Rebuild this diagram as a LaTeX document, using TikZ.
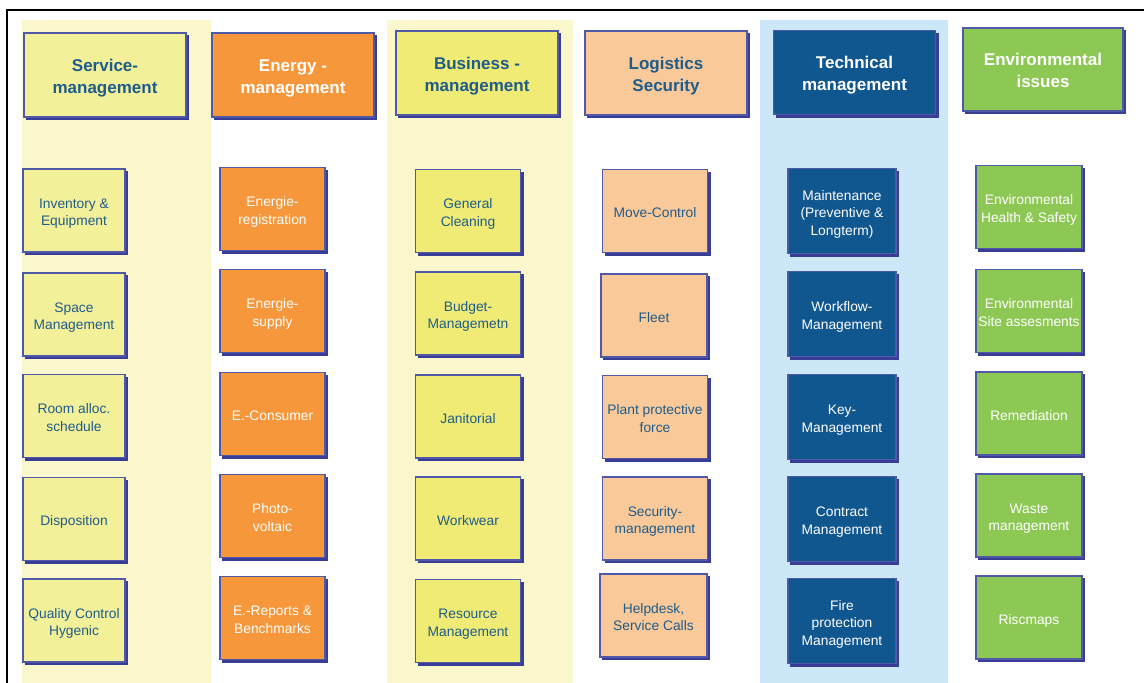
\documentclass[tikz,border=0pt]{standalone}
\usepackage{fontspec}
\setmainfont{Liberation Sans}
\usetikzlibrary{shadows}
\definecolor{bgyel}{HTML}{FAF7CC}
\definecolor{bgblu}{HTML}{CCE8F8}
\definecolor{fsy}{HTML}{F3F09A}
\definecolor{fby}{HTML}{F0EB74}
\definecolor{for}{HTML}{F5973A}
\definecolor{fpe}{HTML}{F9C99A}
\definecolor{fdb}{HTML}{10568F}
\definecolor{fgr}{HTML}{8DC855}
\definecolor{edgec}{HTML}{5058A8}
\definecolor{shadc}{HTML}{3A3D96}
\definecolor{txtd}{HTML}{1F5C8A}
\newcommand{\tbx}[1]{\raisebox{-3pt}[\height][\depth]{\begin{tabular}{@{}c@{}}#1\end{tabular}}}
\begin{document}
\begin{tikzpicture}[x=1pt,y=-1pt,
  box/.style={draw=edgec, line width=1.1pt, inner sep=0pt,
    general shadow={fill=shadc, draw=shadc, line width=1.1pt, shadow xshift=2.6pt, shadow yshift=-2.6pt}},
  hdr/.style={box, minimum width=162pt, minimum height=84pt,
    font=\fontsize{17}{22}\selectfont\bfseries},
  itm/.style={box, minimum height=83pt, font=\fontsize{13.8}{17.5}\selectfont},
  sy/.style={fill=fsy, text=txtd},
  by/.style={fill=fby, text=txtd},
  orb/.style={fill=for, text=white},
  peb/.style={fill=fpe, text=txtd},
  dbb/.style={fill=fdb, text=white},
  grb/.style={fill=fgr, text=white}]
\useasboundingbox (0,0) rectangle (1144,683);
% column backgrounds
\fill[bgyel] (22,20) rectangle (211,683);
\fill[bgyel] (387,20) rectangle (573,683);
\fill[bgblu] (760,20) rectangle (948,683);
% frame
\draw[line width=1.4pt, black] (7,683) -- (7,10) -- (1144,10);
% headers
\node[hdr, sy]  (h1) at (105,75)    {\tbx{Service-\\management}};
\node[hdr, orb] (h2) at (293,75)    {\tbx{Energy -\\management}};
\node[hdr, by]  (h3) at (477,73)    {\tbx{Business -\\management}};
\node[hdr, peb] (h4) at (666,73)    {\tbx{Logistics\\Security}};
\node[hdr, dbb] (h5) at (854.5,72.5){\tbx{Technical\\management}};
\node[hdr, grb, minimum width=160pt, minimum height=83pt] (h6) at (1043,69.5) {\tbx{Environmental\\issues}};
% column 1
\node[itm, sy, minimum width=102pt] (a1) at (74,210.5) {\tbx{Inventory \&\\Equipment}};
\node[itm, sy, minimum width=102pt] (a2) at (74,314.5) {\tbx{Space\\Management}};
\node[itm, sy, minimum width=102pt] (a3) at (74,416)   {\tbx{Room alloc.\\schedule}};
\node[itm, sy, minimum width=102pt] (a4) at (74,519)   {\tbx{Disposition}};
\node[itm, sy, minimum width=102pt] (a5) at (74,620.5) {\tbx{Quality Control\\Hygenic}};
% column 2
\node[itm, orb, minimum width=105pt] (b1) at (272.5,209) {\tbx{Energie-\\registration}};
\node[itm, orb, minimum width=105pt] (b2) at (272.5,311) {\tbx{Energie-\\supply}};
\node[itm, orb, minimum width=105pt] (b3) at (272.5,414) {\tbx{E.-Consumer}};
\node[itm, orb, minimum width=105pt] (b4) at (272.5,516) {\tbx{Photo-\\voltaic}};
\node[itm, orb, minimum width=105pt] (b5) at (272.5,618) {\tbx{E.-Reports \&\\Benchmarks}};
% column 3
\node[itm, by, minimum width=105pt] (c1) at (468,211)   {\tbx{General\\Cleaning}};
\node[itm, by, minimum width=105pt] (c2) at (468,313.5) {\tbx{Budget-\\Managemetn}};
\node[itm, by, minimum width=105pt] (c3) at (468,416.5) {\tbx{Janitorial}};
\node[itm, by, minimum width=105pt] (c4) at (468,518.5) {\tbx{Workwear}};
\node[itm, by, minimum width=105pt] (c5) at (468,621)   {\tbx{Resource\\Management}};
% column 4
\node[itm, peb, minimum width=105pt] (d1) at (655,211)   {\tbx{Move-Control}};
\node[itm, peb, minimum width=106pt] (d2) at (654,315.5) {\tbx{Fleet}};
\node[itm, peb, minimum width=105pt] (d3) at (655,417)   {\tbx{Plant protective\\force}};
\node[itm, peb, minimum width=105pt] (d4) at (655,518.5) {\tbx{Security-\\management}};
\node[itm, peb, minimum width=107pt] (d5) at (653.5,615.5) {\tbx{Helpdesk,\\Service Calls}};
% column 5
\node[itm, dbb, minimum width=108pt, minimum height=85pt] (e1) at (842,211) {\tbx{Maintenance\\(Preventive \&\\Longterm)}};
\node[itm, dbb, minimum width=108pt, minimum height=85pt] (e2) at (842,314) {\tbx{Workflow-\\Management}};
\node[itm, dbb, minimum width=108pt, minimum height=85pt] (e3) at (842,417) {\tbx{Key-\\Management}};
\node[itm, dbb, minimum width=108pt, minimum height=85pt] (e4) at (842,519) {\tbx{Contract\\Management}};
\node[itm, dbb, minimum width=108pt, minimum height=85pt] (e5) at (842,621) {\tbx{Fire\\protection\\Management}};
% column 6
\node[itm, grb, minimum width=106pt] (f1) at (1029,207)   {\tbx{Environmental\\Health \& Safety}};
\node[itm, grb, minimum width=106pt] (f2) at (1029,311)   {\tbx{Environmental\\Site assesments}};
\node[itm, grb, minimum width=106pt] (f3) at (1029,413.5) {\tbx{Remediation}};
\node[itm, grb, minimum width=106pt] (f4) at (1029,515.5) {\tbx{Waste\\management}};
\node[itm, grb, minimum width=106pt] (f5) at (1029,617.5) {\tbx{Riscmaps}};
\end{tikzpicture}
\end{document}
